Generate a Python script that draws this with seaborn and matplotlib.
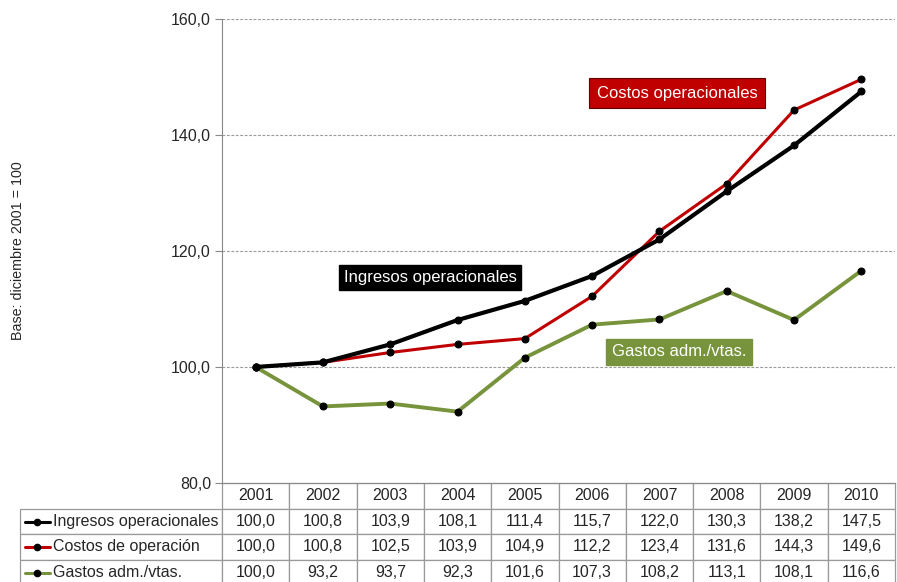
import numpy as np
import pandas as pd
import seaborn as sns
import matplotlib.pyplot as plt

years = [2001, 2002, 2003, 2004, 2005, 2006, 2007, 2008, 2009, 2010]
ingresos = [100.0, 100.8, 103.9, 108.1, 111.4, 115.7, 122.0, 130.3, 138.2, 147.5]
costos = [100.0, 100.8, 102.5, 103.9, 104.9, 112.2, 123.4, 131.6, 144.3, 149.6]
gastos = [100.0, 93.2, 93.7, 92.3, 101.6, 107.3, 108.2, 113.1, 108.1, 116.6]
series_names = ["Ingresos operacionales", "Costos de operación", "Gastos adm./vtas."]
series_colors = ["#000000", "#C00000", "#77933C"]
yticks = [80, 100, 120, 140, 160]

sns.set_style("white")
plt.rcParams['font.family'] = ['Liberation Sans', 'DejaVu Sans']

fig = plt.figure(figsize=(8.97, 5.82), dpi=100)
ax = fig.add_axes([222 / 897, 1 - 483 / 582, 673 / 897, 464 / 582])

# Lines
df = pd.DataFrame({"year": years, "Ingresos": ingresos, "Costos": costos, "Gastos": gastos})
for col, c, lw, z in zip(["Costos", "Gastos", "Ingresos"],
                         [series_colors[1], series_colors[2], series_colors[0]],
                         [2.2, 2.8, 3.0], [3, 2, 4]):
    sns.lineplot(data=df, x="year", y=col, ax=ax, color=c, lw=lw, marker="o",
                 markersize=5, markerfacecolor="black", markeredgecolor="black",
                 zorder=z)

ax.set_xlim(years[0] - 0.5, years[-1] + 0.5)
ax.set_ylim(80, 160)
ax.set_xticks([])
ax.set_xlabel("")
ax.set_ylabel("")
ax.set_yticks(yticks)
ax.set_yticklabels([f"{v:.1f}".replace(".", ",") for v in yticks], fontsize=11.5)
ax.tick_params(axis="y", length=5, width=0.8, color="#888888", pad=3, left=True)
for y in yticks[1:]:
    ax.axhline(y, color="#999999", lw=0.8, ls=(0, (2.5, 1.5)), zorder=0)
ax.spines["top"].set_visible(False)
ax.spines["right"].set_visible(False)
ax.spines["left"].set_color("#888888")
ax.spines["bottom"].set_color("#888888")

fig.text(18 / 897, 0.57, "Base: diciembre 2001 = 100", rotation=90,
         ha="center", va="center", fontsize=10.3)

# Annotation boxes
ax.text(2007.26, 147.2, "Costos operacionales", color="white", fontsize=12,
        ha="center", va="center",
        bbox=dict(boxstyle="square,pad=0.45", fc="#C00000", ec="#600000", lw=0.8))
ax.text(2003.59, 115.5, "Ingresos operacionales", color="white", fontsize=12,
        ha="center", va="center",
        bbox=dict(boxstyle="square,pad=0.3", fc="black", ec="black"))
ax.text(2007.29, 102.6, "Gastos adm./vtas.", color="white", fontsize=12,
        ha="center", va="center",
        bbox=dict(boxstyle="square,pad=0.35", fc="#77933C", ec="#77933C"))

# Data table
fmt = lambda v: f"{v:.1f}".replace(".", ",")
cell_text = [[fmt(v) for v in s] for s in (ingresos, costos, gastos)]
tab_h = 102 / 464
table = ax.table(cellText=cell_text, colLabels=[str(y) for y in years],
                 rowLabels=series_names, rowLoc="left", cellLoc="center",
                 bbox=[0, -tab_h, 1, tab_h])
table.auto_set_font_size(False)
table.set_fontsize(11.5)
table._autoColumns = []
col_w = table[(1, 0)].get_width()
for (r, c), cell in table.get_celld().items():
    cell.set_edgecolor("#999999")
    cell.set_linewidth(0.9)
    if c == -1:
        cell.set_width(col_w * 202 / 67.3)
        cell.PAD = 0.163

# Legend keys inside row labels
row_y = [-38.5 / 464, -64 / 464, -89.5 / 464]
for yy, c in zip(row_y, series_colors):
    ax.plot([(25 - 222) / 673, (50 - 222) / 673], [yy, yy], color=c, lw=2.2,
            transform=ax.transAxes, clip_on=False)
    ax.plot([(37 - 222) / 673], [yy], "o", color="black", ms=4.5,
            transform=ax.transAxes, clip_on=False)

fig.savefig("out.png", dpi=100)
